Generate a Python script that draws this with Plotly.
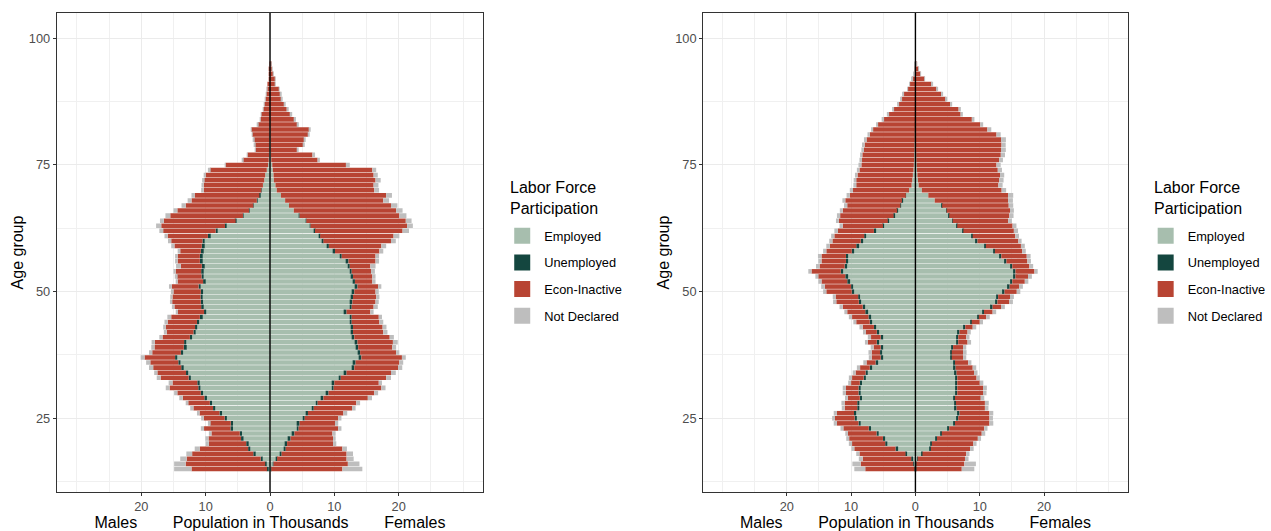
import plotly.graph_objects as go

ages = list(range(15, 96))
categories = ["Employed", "Unemployed", "Econ-Inactive", "Not Declared"]
colors = {"Employed": "#A7BEAE", "Unemployed": "#14463F",
          "Econ-Inactive": "#B84433", "Not Declared": "#BEBEBE"}
x_tickvals = [-20, -10, 0, 10, 20]
x_ticktext = ["20", "10", "0", "10", "20"]
y_tickvals = [25, 50, 75, 100]

# ---------------- Panel 1 (left) ----------------
m1_emp = [0.35, 0.6, 1.25, 2.3, 3.05, 3.3, 4.1, 4.35, 5.75, 5.75,
          6.7, 7.45, 8.5, 9.0, 9.8, 10.4, 10.8, 11.0, 12.3, 12.7,
          13.4, 13.9, 14.4, 13.5, 13.1, 13.0, 12.1, 11.6, 11.3, 11.0,
          10.6, 9.9, 10.4, 10.4, 10.5, 10.4, 10.8, 10.1, 10.3, 10.4,
          10.3, 10.6, 10.6, 10.45, 10.3, 10.2, 9.35, 8.2, 6.8, 5.2,
          4.1, 3.2, 2.55, 2.0, 1.6, 1.3, 1.1, 0.9, 0.75, 0.5,
          0.3, 0.2, 0.15, 0.1, 0.1, 0.08, 0.06, 0.05, 0.03, 0.03,
          0.02, 0.02, 0.01, 0.01, 0, 0, 0, 0, 0, 0, 0]
m1_une = [0.1, 0.15, 0.2, 0.3, 0.35, 0.4, 0.4, 0.35, 0.4, 0.35,
          0.35, 0.4, 0.35, 0.35, 0.4, 0.35, 0.35, 0.3, 0.35, 0.35,
          0.4, 0.35, 0.35, 0.35, 0.3, 0.35, 0.35, 0.3, 0.35, 0.35,
          0.3, 0.35, 0.3, 0.35, 0.3, 0.35, 0.3, 0.3, 0.35, 0.3,
          0.3, 0.3, 0.3, 0.3, 0.3, 0.3, 0.3, 0.25, 0.2, 0.15,
          0.1, 0.05, 0.05, 0.05, 0.05, 0.05, 0, 0, 0, 0,
          0, 0, 0, 0, 0, 0, 0, 0, 0, 0,
          0, 0, 0, 0, 0, 0, 0, 0, 0, 0, 0]
m1_ina = [11.75, 12.35, 11.5, 9.5, 7.5, 5.8, 5.05, 4.4, 4.1, 3.25,
          3.25, 3.1, 3.05, 3.35, 3.35, 3.65, 4.45, 3.85, 4.35, 4.45,
          4.35, 4.35, 4.75, 4.45, 4.55, 4.55, 4.25, 4.15, 4.55, 4.55,
          4.45, 4.05, 4.15, 4.45, 4.35, 4.25, 4.15, 3.95, 3.85, 3.95,
          3.25, 3.45, 3.45, 3.2, 4.25, 4.85, 6.25, 8.15, 9.9, 11.15,
          11.3, 11.15, 10.5, 10.15, 10.05, 8.95, 9.2, 9.4, 9.25, 8.85,
          6.6, 4.0, 3.35, 2.15, 2.25, 2.45, 2.7, 2.85, 1.85, 1.45,
          1.38, 1.03, 0.88, 0.69, 0.6, 0.5, 0.4, 0.2, 0.15, 0.1, 0.05]
m1_nd = [2.7, 1.8, 1.0, 0.9, 0.8, 0.5, 0.5, 0.4, 0.5, 0.3,
         0.4, 0.4, 0.5, 0.4, 0.55, 0.5, 0.6, 0.6, 0.6, 0.5,
         0.65, 0.65, 0.6, 0.5, 0.5, 0.5, 0.5, 0.45, 0.4, 0.5,
         0.6, 0.35, 0.4, 0.35, 0.35, 0.4, 0.45, 0.25, 0.3, 0.35,
         0.75, 0.4, 0.4, 0.4, 0.5, 0.5, 0.5, 0.6, 0.8, 0.6,
         0.75, 0.6, 0.65, 0.6, 0.5, 0.4, 0.35, 0.25, 0.25, 0.3,
         0.1, 0.15, 0.1, 0.05, 0.05, 0.05, 0.05, 0.05, 0.05, 0.03,
         0.03, 0.02, 0.02, 0.02, 0.01, 0.01, 0, 0, 0, 0, 0]

f1_emp = [0.15, 0.45, 0.95, 1.6, 2.2, 2.35, 2.9, 3.5, 4.15, 4.3,
          5.1, 5.6, 6.5, 7.1, 8.0, 8.8, 9.6, 9.7, 10.7, 11.6,
          12.8, 13.0, 13.9, 13.7, 13.4, 13.3, 12.8, 12.6, 12.6, 12.4,
          12.4, 11.6, 12.4, 12.5, 12.6, 12.8, 13.3, 12.9, 12.6, 12.4,
          12.1, 11.9, 10.85, 9.8, 8.9, 8.1, 7.65, 6.9, 6.2, 5.6,
          4.55, 3.7, 2.95, 2.35, 1.7, 1.05, 0.85, 0.6, 0.55, 0.45,
          0.35, 0.2, 0.15, 0.1, 0.1, 0.08, 0.06, 0.05, 0.03, 0.03,
          0.02, 0.02, 0.01, 0.01, 0, 0, 0, 0, 0, 0, 0]
f1_une = [0.05, 0.1, 0.15, 0.2, 0.25, 0.3, 0.3, 0.3, 0.3, 0.3,
          0.3, 0.3, 0.3, 0.3, 0.3, 0.3, 0.3, 0.3, 0.3, 0.3,
          0.3, 0.3, 0.3, 0.3, 0.3, 0.3, 0.3, 0.3, 0.3, 0.3,
          0.3, 0.3, 0.3, 0.3, 0.3, 0.3, 0.3, 0.3, 0.3, 0.3,
          0.3, 0.3, 0.3, 0.3, 0.25, 0.2, 0.15, 0.1, 0.1, 0.05,
          0.05, 0, 0, 0, 0, 0, 0, 0, 0, 0,
          0, 0, 0, 0, 0, 0, 0, 0, 0, 0,
          0, 0, 0, 0, 0, 0, 0, 0, 0, 0, 0]
f1_ina = [11.05, 11.55, 10.8, 10.1, 8.8, 7.15, 6.6, 5.9, 6.15, 5.5,
          5.2, 5.5, 5.95, 6.0, 6.9, 7.1, 7.4, 6.9, 7.05, 6.9,
          6.8, 6.8, 6.3, 5.6, 5.3, 5.5, 5.5, 4.7, 4.6, 4.3,
          4.2, 3.7, 3.4, 3.6, 3.6, 3.3, 3.2, 2.7, 3.0, 3.0,
          3.2, 4.2, 5.25, 6.9, 8.15, 10.5, 11.4, 13.6, 15.0, 15.45,
          15.5, 15.9, 15.85, 15.25, 16.35, 15.15, 15.25, 15.8, 15.55, 15.45,
          11.45, 7.2, 6.45, 4.1, 5.1, 5.2, 5.85, 6.0, 4.25, 3.75,
          3.18, 2.58, 2.19, 1.79, 1.6, 1.4, 0.8, 0.8, 0.5, 0.3, 0.15]
f1_nd = [3.1, 1.8, 1.1, 1.0, 0.7, 0.5, 0.4, 0.5, 0.5, 0.5,
         0.5, 0.6, 0.55, 0.6, 0.65, 0.6, 0.65, 0.5, 0.75, 0.75,
         0.65, 0.6, 0.6, 0.5, 0.6, 0.75, 0.65, 0.65, 0.6, 0.6,
         0.5, 0.5, 0.65, 0.5, 0.5, 0.5, 0.5, 0.5, 0.5, 0.6,
         0.8, 0.55, 0.55, 0.6, 0.75, 0.75, 0.9, 1.0, 0.9, 0.9,
         1.1, 1.0, 1.0, 0.9, 0.9, 0.75, 0.75, 0.8, 0.65, 0.6,
         0.6, 0.35, 0.4, 0.25, 0.2, 0.2, 0.25, 0.15, 0.2, 0.25,
         0.25, 0.15, 0.15, 0.15, 0.1, 0.1, 0.05, 0.05, 0.05, 0.03, 0.02]

# ---------------- Panel 2 (right) ----------------
m2_emp = [0.1, 0.25, 0.5, 1.3, 2.8, 4.35, 4.7, 5.7, 6.9, 8.5,
          9.1, 9.2, 8.7, 8.7, 8.3, 8.5, 8.5, 8.3, 7.7, 7.4,
          6.8, 5.9, 5.1, 5.2, 5.1, 5.7, 5.1, 5.7, 6.15, 6.8,
          7.0, 7.5, 7.9, 8.5, 8.6, 9.6, 9.7, 10.3, 10.6, 11.3,
          10.7, 10.5, 10.5, 9.6, 8.9, 8.2, 7.7, 6.25, 4.9, 4.2,
          3.3, 2.8, 2.3, 2.05, 1.45, 1.0, 0.6, 0.5, 0.4, 0.3,
          0.25, 0.2, 0.2, 0.15, 0.15, 0.1, 0.1, 0.08, 0.06, 0.05,
          0.04, 0.03, 0.02, 0.02, 0, 0, 0, 0, 0, 0, 0]
m2_une = [0.05, 0.1, 0.15, 0.25, 0.3, 0.35, 0.35, 0.35, 0.35, 0.35,
          0.35, 0.35, 0.35, 0.35, 0.35, 0.35, 0.35, 0.35, 0.35, 0.35,
          0.3, 0.3, 0.3, 0.3, 0.3, 0.3, 0.3, 0.3, 0.3, 0.3,
          0.3, 0.3, 0.3, 0.3, 0.3, 0.3, 0.3, 0.3, 0.3, 0.3,
          0.3, 0.3, 0.3, 0.3, 0.3, 0.3, 0.25, 0.2, 0.15, 0.1,
          0.1, 0.05, 0.05, 0.05, 0.05, 0, 0, 0, 0, 0,
          0, 0, 0, 0, 0, 0, 0, 0, 0, 0,
          0, 0, 0, 0, 0, 0, 0, 0, 0, 0, 0]
m2_ina = [7.65, 8.15, 7.55, 7.15, 6.4, 5.15, 5.25, 4.45, 3.95, 3.35,
          3.05, 2.65, 1.95, 1.95, 1.85, 1.95, 1.95, 1.35, 1.8, 1.55,
          1.5, 1.4, 1.4, 1.3, 1.1, 1.4, 1.5, 1.7, 1.75, 2.1,
          2.55, 2.8, 3.1, 3.5, 3.5, 3.95, 4.1, 4.0, 4.2, 4.55,
          3.9, 3.8, 3.8, 3.95, 4.1, 4.4, 4.65, 5.6, 6.25, 7.6,
          8.3, 8.45, 8.25, 8.8, 8.7, 8.7, 8.6, 8.7, 8.6, 8.4,
          8.15, 8.1, 8.05, 7.85, 7.75, 7.5, 7.0, 6.5, 5.75, 4.95,
          4.15, 3.35, 2.6, 2.15, 1.85, 1.15, 0.85, 0.5, 0.2, 0.15, 0.05]
m2_nd = [1.7, 1.3, 0.6, 0.5, 0.45, 0.5, 0.45, 0.4, 0.45, 0.5,
         0.45, 0.5, 0.45, 0.5, 0.45, 0.5, 0.5, 0.45, 0.5, 0.45,
         0.5, 0.5, 0.45, 0.5, 0.45, 0.45, 0.5, 0.45, 0.5, 0.45,
         0.5, 0.45, 0.5, 0.5, 0.45, 0.5, 0.55, 0.5, 0.45, 0.5,
         0.55, 0.5, 0.55, 0.5, 0.55, 0.5, 0.5, 0.55, 0.5, 0.45,
         0.5, 0.45, 0.5, 0.45, 0.5, 0.5, 0.45, 0.4, 0.4, 0.4,
         0.45, 0.4, 0.35, 0.4, 0.4, 0.4, 0.35, 0.3, 0.3, 0.25,
         0.25, 0.2, 0.15, 0.15, 0.1, 0.1, 0.05, 0.05, 0.03, 0.02, 0.01]

f2_emp = [0.1, 0.1, 0.3, 1.0, 2.15, 2.3, 3.1, 3.85, 5.0, 5.9,
          6.4, 6.6, 6.15, 6.05, 5.9, 6.25, 6.25, 6.25, 6.25, 6.15,
          6.0, 5.9, 5.4, 5.4, 5.6, 6.4, 6.4, 6.6, 7.5, 8.5,
          9.6, 10.4, 11.75, 12.5, 12.6, 13.6, 14.4, 14.8, 15.3, 15.3,
          14.8, 13.9, 13.1, 12.1, 10.7, 9.4, 8.7, 7.3, 6.4, 5.7,
          5.2, 4.8, 4.1, 3.0, 2.0, 1.0, 0.5, 0.4, 0.3, 0.25,
          0.2, 0.15, 0.12, 0.1, 0.08, 0.06, 0.05, 0.04, 0.03, 0.02,
          0.02, 0.01, 0.01, 0, 0, 0, 0, 0, 0, 0, 0]
f2_une = [0.05, 0.05, 0.05, 0.1, 0.25, 0.25, 0.25, 0.25, 0.25, 0.25,
          0.25, 0.25, 0.25, 0.25, 0.25, 0.25, 0.25, 0.25, 0.25, 0.25,
          0.25, 0.25, 0.25, 0.25, 0.25, 0.25, 0.25, 0.25, 0.25, 0.25,
          0.25, 0.25, 0.25, 0.25, 0.25, 0.25, 0.25, 0.25, 0.25, 0.25,
          0.25, 0.25, 0.25, 0.25, 0.25, 0.25, 0.2, 0.15, 0.1, 0.1,
          0.05, 0.05, 0.05, 0, 0, 0, 0, 0, 0, 0,
          0, 0, 0, 0, 0, 0, 0, 0, 0, 0,
          0, 0, 0, 0, 0, 0, 0, 0, 0, 0, 0]
f2_ina = [7.05, 7.45, 7.35, 6.8, 6.1, 6.45, 6.35, 6.2, 5.45, 5.35,
          4.85, 4.65, 4.4, 4.5, 4.0, 4.0, 4.0, 3.5, 3.0, 2.7,
          2.65, 2.05, 1.75, 1.75, 1.55, 1.45, 1.25, 1.25, 1.15, 1.25,
          1.15, 1.35, 1.3, 1.85, 1.85, 1.9, 1.45, 1.95, 1.95, 2.95,
          2.65, 3.25, 3.95, 4.25, 5.45, 6.35, 6.6, 7.85, 8.6, 8.6,
          9.35, 9.85, 10.35, 11.4, 12.4, 12.4, 12.4, 12.6, 12.85, 12.55,
          12.4, 12.85, 13.15, 13.2, 13.3, 13.25, 12.55, 11.15, 10.05, 8.75,
          7.0, 6.7, 5.4, 4.7, 4.0, 3.3, 2.5, 1.45, 0.8, 0.5, 0.15]
f2_nd = [1.95, 1.8, 0.55, 0.5, 0.55, 0.5, 0.5, 0.55, 0.5, 0.6,
         0.55, 0.6, 0.55, 0.6, 0.55, 0.55, 0.6, 0.55, 0.5, 0.55,
         0.55, 0.5, 0.5, 0.55, 0.5, 0.55, 0.5, 0.5, 0.55, 0.5,
         0.55, 0.55, 0.6, 0.55, 0.6, 0.55, 0.6, 0.55, 0.6, 0.5,
         0.6, 0.55, 0.6, 0.55, 0.6, 0.5, 0.6, 0.65, 0.6, 0.6,
         0.65, 0.6, 0.7, 0.75, 0.8, 0.7, 0.65, 0.7, 0.65, 0.65,
         0.65, 0.6, 0.65, 0.75, 0.65, 0.75, 0.65, 0.6, 0.45, 0.4,
         0.35, 0.35, 0.3, 0.25, 0.2, 0.15, 0.1, 0.05, 0.05, 0.02, 0.01]

panels = [
    {"x": "x", "y": "y", "legend": "legend",
     "male": [m1_emp, m1_une, m1_ina, m1_nd],
     "female": [f1_emp, f1_une, f1_ina, f1_nd]},
    {"x": "x2", "y": "y2", "legend": "legend2",
     "male": [m2_emp, m2_une, m2_ina, m2_nd],
     "female": [f2_emp, f2_une, f2_ina, f2_nd]},
]

FONT = "Liberation Sans, Arial, sans-serif"
fig = go.Figure()
for p_i, p in enumerate(panels):
    for c_i, cat in enumerate(categories):
        grp = f"{cat}_{p_i}"
        fig.add_trace(go.Bar(
            y=ages, x=[-v for v in p["male"][c_i]], orientation="h",
            name=cat, marker=dict(color=colors[cat], line=dict(width=0)),
            xaxis=p["x"], yaxis=p["y"], legend=p["legend"],
            legendgroup=grp, showlegend=False,
            hovertemplate="Male %{y}: %{customdata}<extra>" + cat + "</extra>",
            customdata=p["male"][c_i]))
        fig.add_trace(go.Bar(
            y=ages, x=p["female"][c_i], orientation="h",
            name=cat, marker=dict(color=colors[cat], line=dict(width=0)),
            xaxis=p["x"], yaxis=p["y"], legend=p["legend"],
            legendgroup=grp, showlegend=False,
            hovertemplate="Female %{y}: %{x}<extra>" + cat + "</extra>"))
        # legend key (square swatch like ggplot's fill key)
        fig.add_trace(go.Scatter(
            x=[None], y=[None], mode="markers", name=cat,
            marker=dict(symbol="square", size=16, color=colors[cat]),
            xaxis=p["x"], yaxis=p["y"], legend=p["legend"],
            legendgroup=grp, showlegend=True, hoverinfo="skip"))

W, H = 1271, 531
y_dom = [1 - 492 / H, 1 - 13 / H]
x_doms = [[57 / W, 486 / W], [707 / W, 1134 / W]]
x_ranges = [[-33.15, 33.15], [-33.0, 33.0]]
xtitle = ("Males" + "\u00a0" * 8 + "Population in Thousands" + "\u00a0" * 8 + "Females")

axis_common = dict(showline=True, mirror=True, linecolor="#333333", linewidth=1,
                   gridcolor="#EBEBEB", gridwidth=1.1, zeroline=False,
                   ticks="outside", ticklen=3, tickwidth=1, tickcolor="#333333",
                   tickfont=dict(family=FONT, size=12.8, color="#4D4D4D"))

layout = dict(
    width=W, height=H, barmode="relative", bargap=0.1,
    margin=dict(l=0, r=0, t=0, b=0),
    paper_bgcolor="white", plot_bgcolor="white",
    font=dict(family=FONT, color="black"),
    shapes=[], annotations=[],
)
legend_x = [503, 1150]
for i in range(2):
    sx = "" if i == 0 else "2"
    layout["xaxis" + sx] = dict(
        axis_common, domain=x_doms[i], anchor="y" + sx, range=x_ranges[i],
        tickmode="array", tickvals=x_tickvals, ticktext=x_ticktext,
        minor=dict(tickmode="array", tickvals=[-30, -25, -15, -5, 5, 15, 25, 30],
                   showgrid=True, gridcolor="#F0F0F0", gridwidth=0.7, ticks=""),
        title=dict(text=xtitle, font=dict(family=FONT, size=16, color="black"),
                   standoff=3))
    layout["yaxis" + sx] = dict(
        axis_common, domain=y_dom, anchor="x" + sx, range=[10.45, 105],
        tickmode="array", tickvals=y_tickvals,
        minor=dict(tickmode="array", tickvals=[12.5, 37.5, 62.5, 87.5],
                   showgrid=True, gridcolor="#F0F0F0", gridwidth=0.7, ticks=""),
        title=dict(text="Age group", font=dict(family=FONT, size=16, color="black"),
                   standoff=1))
    layout["shapes"].append(dict(
        type="line", xref="x" + sx, yref="y" + sx + " domain", x0=0, x1=0, y0=0, y1=1,
        line=dict(color="black", width=1.4), layer="above"))
    # legend title, placed where ggplot puts it
    layout["annotations"].append(dict(
        text="Labor Force<br>Participation", xref="paper", yref="paper",
        x=(legend_x[i] + 8) / W, y=1 - 177 / H, xanchor="left", yanchor="top",
        align="left", showarrow=False,
        font=dict(family=FONT, size=16, color="black")))

legend_common = dict(
    yanchor="top", xanchor="left", y=1 - 221 / H,
    font=dict(family=FONT, size=12.8, color="black"),
    traceorder="grouped", tracegroupgap=7, bgcolor="rgba(0,0,0,0)",
    itemwidth=34, itemclick=False, itemdoubleclick=False)
layout["legend"] = dict(legend_common, x=legend_x[0] / W)
layout["legend2"] = dict(legend_common, x=legend_x[1] / W)

fig.update_layout(**layout)
fig.write_html("out.html", config={"displayModeBar": False},
               post_script="document.body.style.margin='0';document.body.style.overflow='hidden';")
